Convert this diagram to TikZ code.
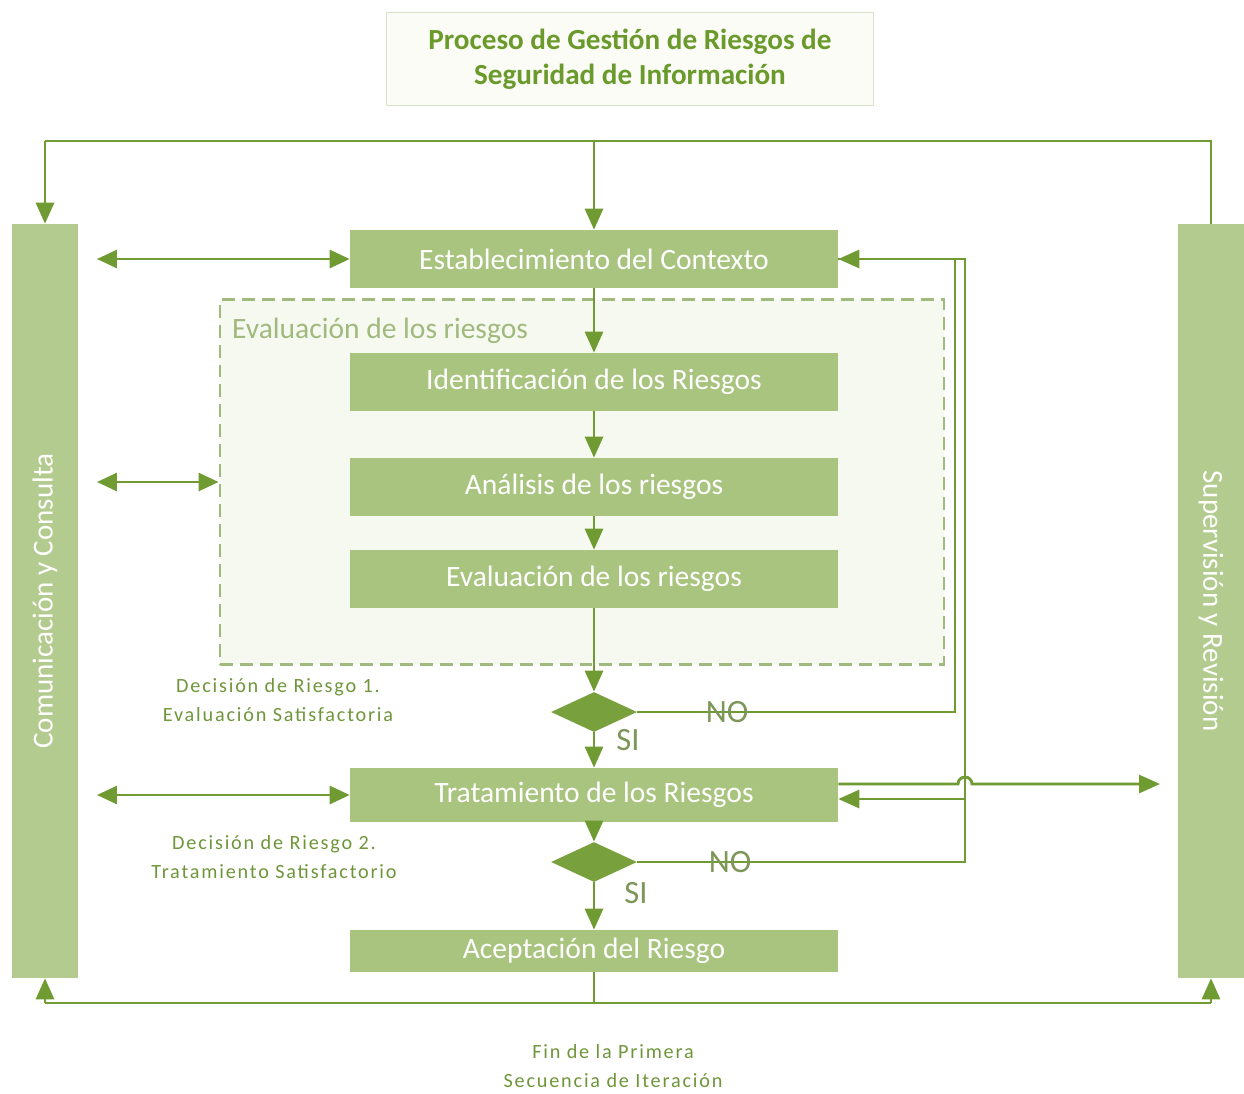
\documentclass[tikz,border=0pt]{standalone}
\usepackage{fontspec}
\setmainfont{Carlito}
\usetikzlibrary{shapes.geometric,arrows.meta}
\definecolor{linegreen}{RGB}{112,155,50}
\definecolor{boxgreen}{RGB}{169,196,127}
\definecolor{bargreen}{RGB}{179,203,143}
\definecolor{darkgreen}{RGB}{120,160,60}
\definecolor{titlegreen}{RGB}{107,154,44}
\definecolor{notegreen}{RGB}{111,150,58}
\definecolor{answergray}{RGB}{125,150,90}
\definecolor{zonegreen}{RGB}{160,185,125}
\begin{document}
\begin{tikzpicture}[x=0.02cm, y=-0.02cm,
  stage/.style={fill=boxgreen, text=white, minimum width=9.76cm, minimum height=1.16cm, inner sep=0pt, font=\fontsize{16.8}{19}\selectfont},
  sidebar/.style={fill=bargreen, text=white, minimum width=1.32cm, minimum height=15.08cm, inner sep=0pt, font=\fontsize{16.5}{19}\selectfont},
  choice/.style={diamond, fill=darkgreen, minimum width=1.72cm, minimum height=0.8cm, inner sep=0pt},
  wire/.style={draw=linegreen, line width=1.6pt},
  flow/.style={wire, -{Triangle[width=0.36cm,length=0.42cm]}},
  twoway/.style={wire, {Triangle[width=0.36cm,length=0.4cm]}-{Triangle[width=0.36cm,length=0.4cm]}},
  note/.style={text=notegreen, align=center, font=\fontsize{11.5}{16}\selectfont\addfontfeature{LetterSpace=9}},
  answer/.style={text=answergray, font=\fontsize{18.5}{20}\selectfont}]
\path[use as bounding box, fill=white] (0,0) rectangle (1244,1093);
\node[fill={rgb,255:red,250;green,252;blue,245}, draw={rgb,255:red,216;green,226;blue,200}, line width=0.8pt, minimum width=9.74cm, minimum height=1.86cm, align=center, text=titlegreen, font=\bfseries\fontsize{16.6}{20}\selectfont] (title) at (630,59) {Proceso de Gestión de Riesgos de\\Seguridad de Información};
\node[fill={rgb,255:red,246;green,249;blue,240}, draw=zonegreen, line width=1.2pt, dash pattern=on 0.26cm off 0.14cm, minimum width=14.5cm, minimum height=7.3cm] (zone) at (582,482) {};
\node[anchor=west, text=zonegreen, font=\fontsize{16.8}{19}\selectfont] at (226,331) {Evaluación de los riesgos};
\node[sidebar] (com) at (45,601) {\rotatebox{90}{Comunicación y Consulta}};
\node[sidebar] (sup) at (1211,601) {\rotatebox{-90}{Supervisión y Revisión}};
\node[stage] (ctx) at (594,259) {Establecimiento del Contexto};
\node[stage] (ident) at (594,382) {Identificación de los Riesgos};
\node[stage] (anal) at (594,487) {Análisis de los riesgos};
\node[stage] (evalr) at (594,579) {Evaluación de los riesgos};
\node[choice] (dec1) at (594,712) {};
\node[stage, minimum height=1.08cm] (trat) at (594,795) {Tratamiento de los Riesgos};
\node[choice] (dec2) at (594,862) {};
\node[stage, minimum height=0.84cm] (acep) at (594,951) {Aceptación del Riesgo};
\node[note] at (278,700) {Decisión de Riesgo 1.\\Evaluación Satisfactoria};
\node[note] at (274,857) {Decisión de Riesgo 2.\\Tratamiento Satisfactorio};
\node[note] at (613,1066) {Fin de la Primera\\Secuencia de Iteración};
\coordinate (topL) at (45,141);
\coordinate (topM) at (594,141);
\coordinate (topR) at (1211,141);
\coordinate (botL) at (45,1003);
\coordinate (botM) at (594,1003);
\coordinate (botR) at (1211,1003);
\draw[wire] (sup.north) -- (topR) -- (topL);
\draw[flow] (topL) -- (com.north);
\draw[flow] (topM) -- (ctx.north);
\draw[wire] (acep.south) -- (botM);
\draw[wire] (botL) -- (botR);
\draw[flow] (botL) -- (com.south);
\draw[flow] (botR) -- (sup.south);
\draw[flow] (ctx) -- (ident);
\draw[flow] (ident) -- (anal);
\draw[flow] (anal) -- (evalr);
\draw[flow] (evalr) -- (dec1);
\draw[flow] (dec1) -- (trat);
\draw[flow] (trat) -- (dec2);
\draw[flow] (dec2) -- (acep);
\coordinate (ret1) at (955,712);
\coordinate (ret2) at (965,862);
\draw[wire] (dec2.east) -- (ret2) |- (ctx.east);
\draw[flow] (dec1.east) -- (ret1) |- (ctx.east);
\coordinate (tin) at ([yshift=-0.08cm]trat.east);
\coordinate (tout) at ([yshift=0.22cm]trat.east);
\coordinate (hop) at (ret2 |- tout);
\coordinate (supin) at (1160,784);
\draw[flow] (ret2 |- tin) -- (tin);
\draw[flow] (tout) -- ([xshift=-0.14cm]hop) arc[start angle=180, end angle=0, radius=0.14cm] -- (supin);
\coordinate (c1) at (97,259);
\coordinate (c2) at (97,482);
\coordinate (c3) at (97,795);
\draw[twoway] (c1) -- (ctx.west);
\draw[twoway] (c2) -- (zone.west);
\draw[twoway] (c3) -- (trat.west);
\node[answer] at (727,712) {NO};
\node[answer] at (730,862) {NO};
\node[answer] at (628,740) {SI};
\node[answer] at (636,893) {SI};
\end{tikzpicture}
\end{document}
